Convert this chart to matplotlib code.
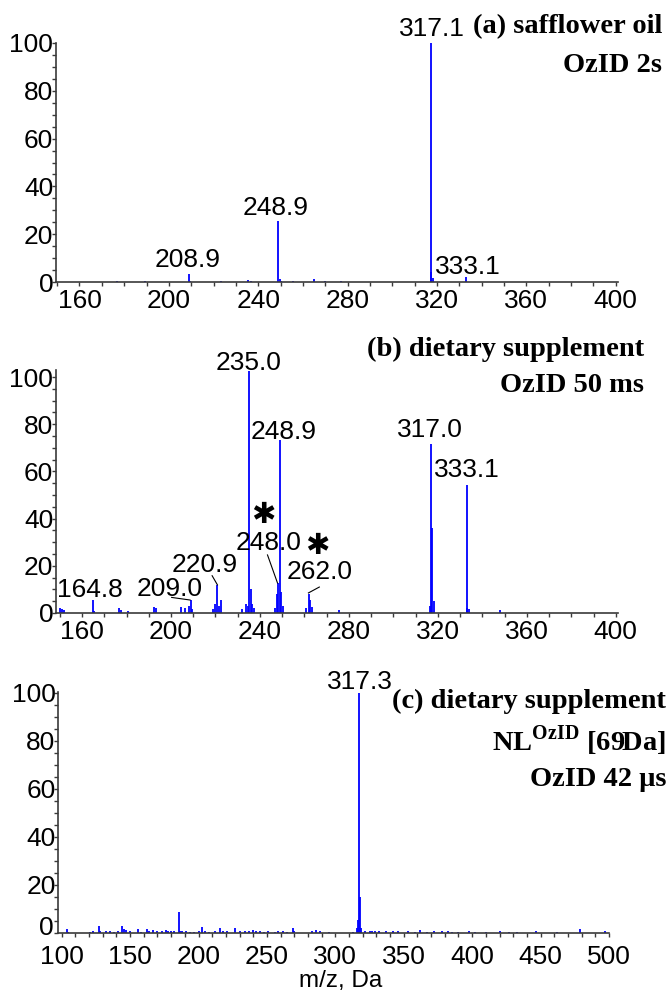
import matplotlib
matplotlib.use("Agg")
import matplotlib.pyplot as plt
from matplotlib.ticker import MultipleLocator, FuncFormatter

plt.rcParams['font.family'] = ['Liberation Sans', 'DejaVu Sans']
plt.rcParams['mathtext.fontset'] = 'custom'
plt.rcParams['mathtext.rm'] = 'Liberation Serif:bold'
plt.rcParams['mathtext.bf'] = 'Liberation Serif:bold'

# ---------------- data ----------------
# (a) safflower oil, OzID 2s
a_mz = [176.8, 189.5, 208.9, 209.6, 223.2, 235.2, 236.7, 248.9, 249.8, 250.4,
        255.4, 265.0, 270.0, 277.1, 317.1, 317.5, 318.2, 333.1]
a_int = [0.3, 0.3, 3.2, 0.6, 0.3, 0.7, 0.3, 25.5, 1.2, 0.5,
         0.3, 1.4, 0.4, 0.4, 100.0, 4.0, 1.5, 2.0]
a_labels = ["317.1", "248.9", "208.9", "333.1"]
a_label_x = [317.6, 247.9, 208.2, 334.0]
a_label_y = [106.0, 31.0, 9.2, 6.3]

# (b) dietary supplement, OzID 50 ms
b_mz = [150.2, 151.0, 152.0, 164.8, 165.4, 176.8, 177.5, 180.5, 192.3, 193.2,
        204.4, 206.5, 208.0, 209.0, 209.6, 218.8, 219.8, 220.9, 221.5, 222.4,
        232.0, 233.9, 234.5, 235.0, 235.8, 236.5, 237.3, 246.8, 247.5, 248.0,
        248.9, 249.6, 250.3, 260.8, 262.0, 262.6, 263.3, 275.6, 316.6, 317.0,
        317.5, 318.3, 332.9, 333.1, 334.0, 347.8]
b_int = [2.0, 1.5, 1.2, 5.6, 1.0, 2.0, 1.2, 1.0, 2.5, 2.3,
         2.5, 2.0, 3.0, 5.4, 1.5, 1.5, 4.0, 12.0, 3.0, 5.6,
         1.5, 4.0, 3.0, 102.5, 10.0, 4.0, 2.0, 2.0, 8.0, 12.7,
         73.2, 9.0, 3.0, 2.0, 8.2, 5.6, 2.5, 1.2, 3.0, 71.5,
         36.0, 5.0, 2.0, 54.2, 1.5, 1.2]
b_labels = ["235.0", "248.9", "317.0", "333.1", "248.0", "262.0", "220.9", "164.8", "209.0"]
b_label_x = [234.9, 250.6, 316.5, 333.1, 243.9, 266.7, 215.2, 163.6, 199.2]
b_label_y = [106.0, 76.7, 77.5, 60.6, 29.7, 17.4, 20.3, 9.7, 10.2]
b_leader_from = [(218.5, 15.8), (243.4, 24.6), (266.7, 11.0), (200.3, 6.6)]
b_leader_to = [(220.9, 11.9), (247.9, 12.7), (261.8, 8.5), (208.6, 5.5)]
b_star_x = [241.6, 265.8]
b_star_y = [41.5, 28.4]

# (c) dietary supplement, NL OzID [69Da], OzID 42 us
c_mz = [103.5, 104.5, 120.5, 123.0, 127.0, 128.0, 132.0, 135.0, 138.0, 141.0,
        144.3, 145.5, 147.0, 150.0, 156.0, 158.0, 162.0, 164.0, 167.0, 170.0,
        173.0, 176.0, 178.0, 180.0, 182.0, 185.7, 186.5, 188.0, 191.0, 194.0,
        197.0, 200.0, 202.4, 205.0, 208.0, 212.0, 215.7, 218.0, 221.0, 226.5,
        230.0, 234.0, 237.0, 240.0, 242.0, 245.0, 248.0, 251.0, 256.0, 258.0,
        262.0, 265.0, 268.8, 270.0, 283.0, 286.0, 289.0, 295.0, 313.0, 315.5,
        316.5, 317.3, 318.0, 319.0, 322.0, 325.0, 327.0, 329.0, 332.0, 337.0,
        342.0, 346.0, 353.0, 358.0, 362.0, 367.0, 372.0, 378.0, 382.0, 385.0,
        390.0, 398.0, 402.0, 410.0, 420.0, 427.0, 433.0, 447.0, 462.0, 479.0,
        497.0]
c_int = [1.5, 0.6, 0.5, 0.8, 2.8, 1.0, 0.7, 0.8, 0.6, 0.9,
         2.8, 1.5, 1.2, 0.8, 1.5, 0.6, 1.6, 1.0, 1.2, 0.8,
         0.8, 1.3, 0.8, 1.0, 0.8, 8.8, 1.0, 0.8, 0.8, 0.6,
         0.6, 0.8, 2.7, 0.8, 0.6, 0.8, 2.0, 0.8, 0.8, 2.0,
         0.8, 1.0, 0.8, 1.2, 0.8, 1.0, 0.6, 1.0, 0.6, 0.7,
         1.0, 0.6, 2.0, 0.7, 0.8, 1.2, 1.0, 0.5, 0.6, 2.0,
         5.5, 100.0, 15.0, 2.0, 1.0, 1.0, 0.8, 1.0, 0.8, 0.8,
         1.0, 0.8, 0.9, 0.6, 1.2, 0.6, 0.8, 1.0, 0.8, 0.6,
         0.6, 1.0, 0.5, 0.6, 0.8, 0.6, 0.5, 0.8, 0.5, 1.5,
         0.8]
c_labels = ["317.3"]
c_label_x = [317.7]
c_label_y = [104.6]

# ---------------- figure ----------------
W, H = 669, 994
fig = plt.figure(figsize=(W / 100, H / 100), dpi=100)

BLUE = (0.0, 0.0, 1.0)
SPINE = '#3a3a3a'
TICKFS = 19
SERIF = ['Liberation Serif', 'DejaVu Serif']


def px_axes(left, right, y0, y100, ylim_top):
    bottom = (H - y0) / H
    h100 = (y0 - y100) / H
    return fig.add_axes([left / W, bottom, (right - left) / W, h100 * ylim_top / 100.0])


def style(ax, xlim, ylim_top, xmajor, xpad):
    ax.set_xlim(*xlim)
    ax.set_ylim(0, ylim_top)
    for s in ['top', 'right']:
        ax.spines[s].set_visible(False)
    for s in ['left', 'bottom']:
        ax.spines[s].set_color(SPINE)
        ax.spines[s].set_linewidth(1.2)
    ax.xaxis.set_major_locator(MultipleLocator(xmajor))
    ax.xaxis.set_minor_locator(MultipleLocator(10))
    ax.yaxis.set_major_locator(MultipleLocator(20))
    ax.yaxis.set_minor_locator(MultipleLocator(5))
    ax.tick_params(axis='both', which='both', direction='out', color=SPINE,
                   length=3, width=1, labelsize=TICKFS)
    ax.tick_params(axis='y', pad=-1)
    ax.tick_params(axis='x', pad=xpad)
    ax.patch.set_alpha(0)


def spectrum(ax, mz, inten):
    ax.vlines(mz, 0, inten, colors=[BLUE], linewidth=1.3, clip_on=False)


# panel (a)
ax_a = px_axes(56, 618, 282, 43, 100)
spectrum(ax_a, a_mz, a_int)
style(ax_a, (149.5, 401), 100, 40, 2)
for t, x, y in zip(a_labels, a_label_x, a_label_y):
    ax_a.text(x, y, t, ha='center', va='center', fontsize=TICKFS, clip_on=False)

# panel (b)
ax_b = px_axes(56, 618, 613, 377, 103)
spectrum(ax_b, b_mz, b_int)
style(ax_b, (148.3, 401), 103, 40, 2)
for t, x, y in zip(b_labels, b_label_x, b_label_y):
    ax_b.text(x, y, t, ha='center', va='center', fontsize=TICKFS, clip_on=False)
for (x0, y0), (x1, y1) in zip(b_leader_from, b_leader_to):
    ax_b.plot([x0, x1], [y0, y1], color='black', linewidth=0.8, clip_on=False)
for x, y in zip(b_star_x, b_star_y):
    ax_b.text(x, y, "\u2731", ha='center', va='center', fontsize=21,
              color='black', family=['DejaVu Sans'], clip_on=False)

# panel (c)
ax_c = px_axes(58.3, 609, 933, 693, 100.5)
spectrum(ax_c, c_mz, c_int)
style(ax_c, (97.5, 500), 100.5, 50, 6)
# the "0" of the y axis sits a little higher so it clears the x labels
ax_c.yaxis.set_major_formatter(FuncFormatter(lambda v, p: '' if v == 0 else f'{v:g}'))
ax_c.annotate('0', xy=(0, 0), xycoords='axes fraction', xytext=(-3.5, 3.5),
              textcoords='offset points', ha='right', va='center', fontsize=TICKFS)
for t, x, y in zip(c_labels, c_label_x, c_label_y):
    ax_c.text(x, y, t, ha='center', va='center', fontsize=TICKFS, clip_on=False)
fig.text(341 / W, 1 - 981 / H, "m/z, Da", ha='center', va='center', fontsize=17.5)

# bold serif panel titles (figure pixel positions)
def ftext(x, y, s):
    fig.text(x / W, 1 - y / H, s, ha='right', va='center', fontsize=20.5,
             fontweight='bold', family=SERIF)

ftext(662, 27, "(a) safflower oil")
ftext(662, 65, "OzID 2s")
ftext(644, 349, "(b) dietary supplement")
ftext(644, 386, "OzID 50 ms")
ftext(666, 701, "(c) dietary supplement")
ftext(666, 741, r"NL$^{\mathrm{OzID}}$ [69Da]")
ftext(666, 780, "OzID 42 \u03bcs")

fig.savefig("out.png", dpi=100)
